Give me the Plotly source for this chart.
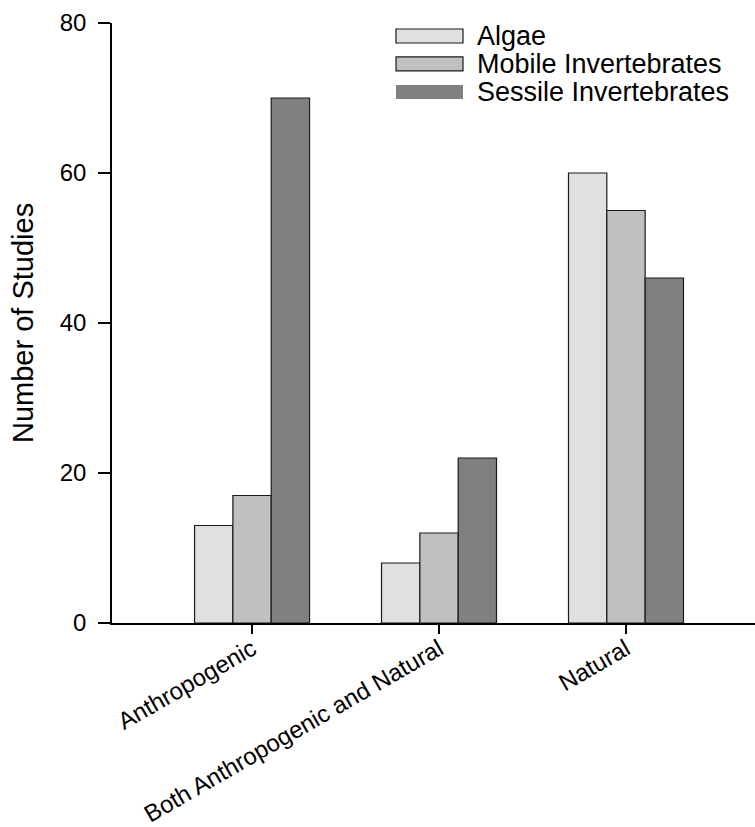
import plotly.graph_objects as go

# Source type of each study group
categories = ["Anthropogenic", "Both Anthropogenic and Natural", "Natural"]

# Number of studies per organism group
algae = [13, 8, 60]
mobile_invertebrates = [17, 12, 55]
sessile_invertebrates = [70, 22, 46]

series_names = ["Algae", "Mobile Invertebrates", "Sessile Invertebrates"]
series_values = [algae, mobile_invertebrates, sessile_invertebrates]
fill_colors = ["#e0e0e0", "#c0c0c0", "#808080"]
edge_colors = ["#1a1a1a", "#1a1a1a", "#1a1a1a"]

y_ticks = [0, 20, 40, 60, 80]

FONT = "Liberation Sans, Arial, Helvetica, sans-serif"
W, H = 755, 827
M_L, M_R, M_T, M_B = 112, 0, 23, 203.5
PW, PH = W - M_L - M_R, H - M_T - M_B

fig = go.Figure()
for name, vals, fc, ec in zip(series_names, series_values, fill_colors, edge_colors):
    fig.add_trace(go.Bar(
        x=categories, y=vals, name=name,
        marker=dict(color=fc, line=dict(color=ec, width=1.2)),
        showlegend=False,
    ))


def px_x(p):
    return (p - M_L) / PW


def px_y(p):
    return 1 - (p - M_T) / PH


# Legend drawn as wide swatches with labels at the upper right
legend_rows = [36, 64, 92]
shapes = []
annotations = []
for name, fc, ec, yc in zip(series_names, fill_colors, edge_colors, legend_rows):
    line = dict(color=ec, width=1.2) if name != "Sessile Invertebrates" else dict(width=0)
    shapes.append(dict(
        type="rect", xref="paper", yref="paper",
        x0=px_x(396), x1=px_x(463), y0=px_y(yc + 7), y1=px_y(yc - 7),
        fillcolor=fc, line=line, layer="above",
    ))
    annotations.append(dict(
        xref="paper", yref="paper", x=px_x(475), y=px_y(yc),
        xanchor="left", yanchor="middle", text=name, showarrow=False,
        font=dict(family=FONT, size=27, color="black"),
    ))

annotations.append(dict(
    xref="paper", yref="paper", x=0, y=0.5, xshift=-89,
    xanchor="center", yanchor="middle", textangle=-90,
    text="Number of Studies", showarrow=False,
    font=dict(family=FONT, size=29, color="black"),
))

fig.update_layout(
    width=W, height=H,
    margin=dict(l=M_L, r=M_R, t=M_T, b=M_B, pad=0, autoexpand=False),
    paper_bgcolor="white", plot_bgcolor="white",
    barmode="group", bargap=0.385, bargroupgap=0,
    font=dict(family=FONT, color="black"),
    shapes=shapes, annotations=annotations,
    xaxis=dict(
        range=[-0.749, 2.69], showgrid=False, zeroline=False, automargin=False,
        showline=True, linecolor="black", linewidth=1.5,
        ticks="outside", ticklen=9, tickwidth=1.5, tickcolor="black",
        ticklabelstandoff=-8,
        tickangle=-30, tickfont=dict(family=FONT, size=24, color="black"),
    ),
    yaxis=dict(
        range=[0, 80], tickvals=y_ticks, showgrid=False, zeroline=False, automargin=False,
        showline=True, linecolor="black", linewidth=1.5,
        ticks="outside", ticklen=12, tickwidth=1.5, tickcolor="black",
        ticklabelstandoff=7,
        tickfont=dict(family=FONT, size=24, color="black"),
    ),
)

fig.write_html("out.html")
